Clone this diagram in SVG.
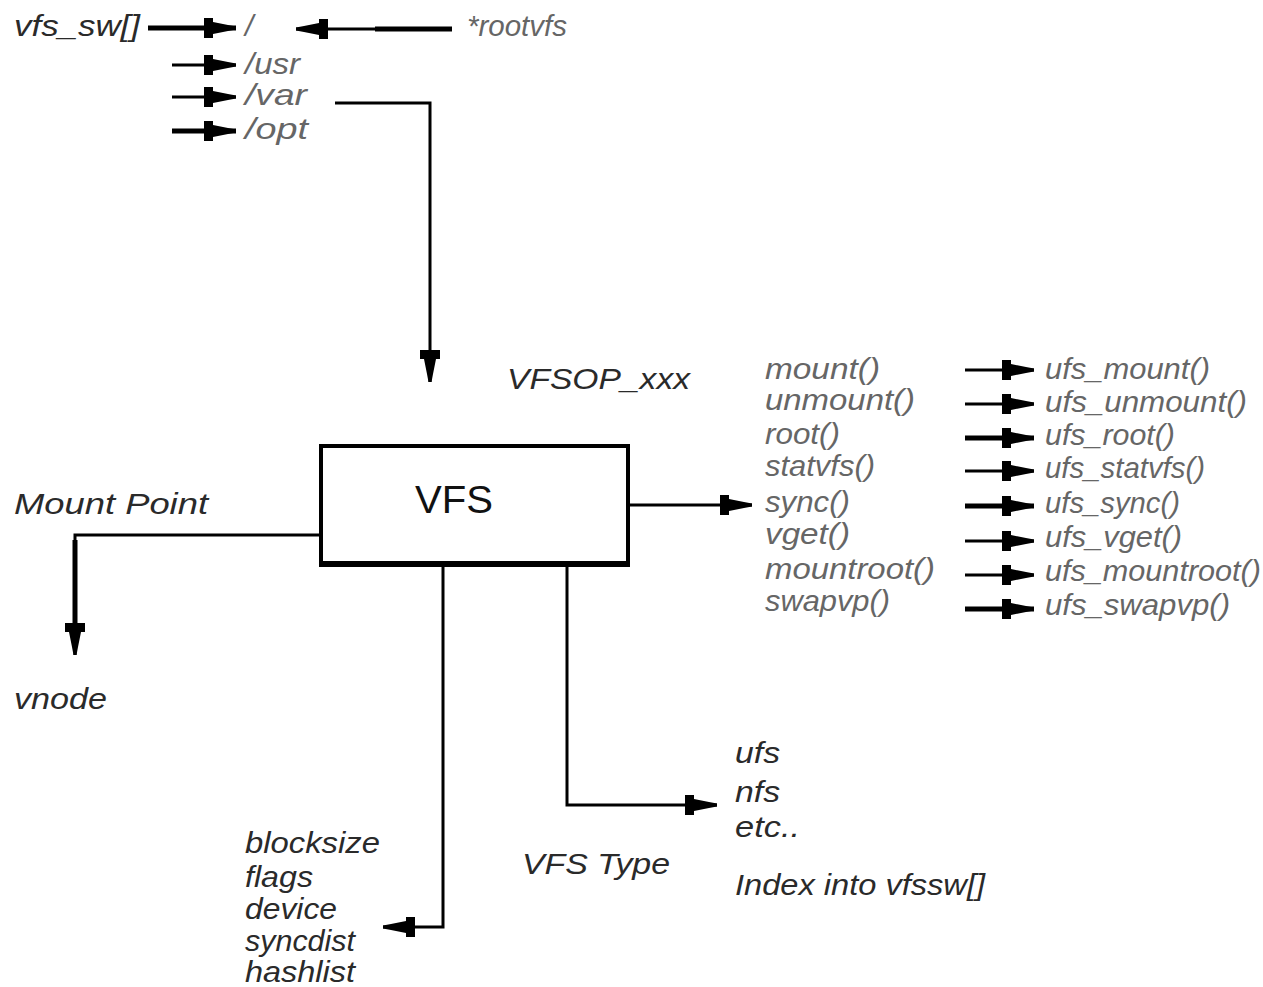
<svg xmlns="http://www.w3.org/2000/svg" width="1263" height="987" viewBox="0 0 1263 987">
<style>
.t{font-family:"Liberation Sans",Arial,sans-serif;font-style:italic;font-size:30px;fill:#2a2a2a}
.g{font-family:"Liberation Sans",Arial,sans-serif;font-style:italic;font-size:30px;fill:#666}
.b{font-family:"Liberation Sans",Arial,sans-serif;font-size:39px;fill:#111}
.c{fill:none;stroke:#000;stroke-width:3}
.k{stroke-width:5}
</style>
<defs>
<marker id="ah" markerUnits="userSpaceOnUse" viewBox="0 -11 32 22" markerWidth="32" markerHeight="22" refX="32" refY="0" orient="auto">
<path d="M0,-10 L9,-10 L9,-6 L24,-3 L32,-1.5 L32,1.5 L24,3 L9,6 L9,10 L0,10 Z" fill="#000"/>
</marker>
</defs>
<rect width="1263" height="987" fill="#fff"/>
<g id="connectors">
<line class="c k" x1="148" y1="28" x2="236" y2="28" marker-end="url(#ah)"/>
<line class="c" x1="172" y1="65" x2="236" y2="65" marker-end="url(#ah)"/>
<line class="c" x1="172" y1="97" x2="236" y2="97" marker-end="url(#ah)"/>
<line class="c k" x1="172" y1="131" x2="236" y2="131" marker-end="url(#ah)"/>
<line class="c k" x1="452" y1="29" x2="375" y2="29"/>
<line class="c" x1="376" y1="29" x2="296" y2="29" marker-end="url(#ah)"/>
<polyline class="c" points="335,103 430,103 430,382" marker-end="url(#ah)"/>
<polyline class="c" points="320,535 75,535 75,655" marker-end="url(#ah)"/>
<line class="c k" x1="75" y1="540" x2="75" y2="640"/>
<line class="c" x1="628" y1="505" x2="752" y2="505" marker-end="url(#ah)"/>
<polyline class="c" points="443,565 443,927 383,927" marker-end="url(#ah)"/>
<polyline class="c" points="567,565 567,805 717,805" marker-end="url(#ah)"/>
<line class="c" x1="965" y1="370" x2="1034" y2="370" marker-end="url(#ah)"/>
<line class="c" x1="965" y1="404" x2="1034" y2="404" marker-end="url(#ah)"/>
<line class="c k" x1="965" y1="438" x2="1034" y2="438" marker-end="url(#ah)"/>
<line class="c" x1="965" y1="471" x2="1034" y2="471" marker-end="url(#ah)"/>
<line class="c k" x1="965" y1="506" x2="1034" y2="506" marker-end="url(#ah)"/>
<line class="c" x1="965" y1="541" x2="1034" y2="541" marker-end="url(#ah)"/>
<line class="c" x1="965" y1="575" x2="1034" y2="575" marker-end="url(#ah)"/>
<line class="c k" x1="965" y1="609" x2="1034" y2="609" marker-end="url(#ah)"/>
</g>
<g id="vfs_sw">
<text class="t" x="14" y="36" textLength="126" lengthAdjust="spacingAndGlyphs">vfs_sw[]</text>
<text class="g" x="245" y="36">/</text>
<text class="g" x="245" y="74" textLength="55" lengthAdjust="spacingAndGlyphs">/usr</text>
<text class="g" x="245" y="105" textLength="62" lengthAdjust="spacingAndGlyphs">/var</text>
<text class="g" x="245" y="139" textLength="63" lengthAdjust="spacingAndGlyphs">/opt</text>
</g>
<g id="rootvfs"><text class="g" x="467" y="36" textLength="100" lengthAdjust="spacingAndGlyphs">*rootvfs</text></g>
<g id="vfs">
<rect x="321" y="446" width="307" height="119" fill="#fff" stroke="#000" stroke-width="4"/>
<line x1="319" y1="564" x2="630" y2="564" stroke="#000" stroke-width="6"/>
<text class="b" x="415" y="513" textLength="78" lengthAdjust="spacingAndGlyphs">VFS</text>
</g>
<g id="vfsop"><text class="t" x="507" y="389" textLength="183" lengthAdjust="spacingAndGlyphs">VFSOP_xxx</text></g>
<g id="mountpoint"><text class="t" x="14" y="514" textLength="194" lengthAdjust="spacingAndGlyphs">Mount Point</text></g>
<g id="vnode"><text class="t" x="14" y="709" textLength="93" lengthAdjust="spacingAndGlyphs">vnode</text></g>
<g id="ops">
<text class="g" x="765" y="379" textLength="115" lengthAdjust="spacingAndGlyphs">mount()</text>
<text class="g" x="765" y="410" textLength="150" lengthAdjust="spacingAndGlyphs">unmount()</text>
<text class="g" x="765" y="444" textLength="75" lengthAdjust="spacingAndGlyphs">root()</text>
<text class="g" x="765" y="476" textLength="110" lengthAdjust="spacingAndGlyphs">statvfs()</text>
<text class="g" x="765" y="512" textLength="85" lengthAdjust="spacingAndGlyphs">sync()</text>
<text class="g" x="765" y="544" textLength="85" lengthAdjust="spacingAndGlyphs">vget()</text>
<text class="g" x="765" y="579" textLength="170" lengthAdjust="spacingAndGlyphs">mountroot()</text>
<text class="g" x="765" y="611" textLength="125" lengthAdjust="spacingAndGlyphs">swapvp()</text>
</g>
<g id="ufsops">
<text class="g" x="1045" y="379" textLength="165" lengthAdjust="spacingAndGlyphs">ufs_mount()</text>
<text class="g" x="1045" y="412" textLength="202" lengthAdjust="spacingAndGlyphs">ufs_unmount()</text>
<text class="g" x="1045" y="445" textLength="130" lengthAdjust="spacingAndGlyphs">ufs_root()</text>
<text class="g" x="1045" y="478" textLength="160" lengthAdjust="spacingAndGlyphs">ufs_statvfs()</text>
<text class="g" x="1045" y="513" textLength="135" lengthAdjust="spacingAndGlyphs">ufs_sync()</text>
<text class="g" x="1045" y="547" textLength="137" lengthAdjust="spacingAndGlyphs">ufs_vget()</text>
<text class="g" x="1045" y="581" textLength="216" lengthAdjust="spacingAndGlyphs">ufs_mountroot()</text>
<text class="g" x="1045" y="615" textLength="185" lengthAdjust="spacingAndGlyphs">ufs_swapvp()</text>
</g>
<g id="fields">
<text class="t" x="245" y="853" textLength="135" lengthAdjust="spacingAndGlyphs">blocksize</text>
<text class="t" x="245" y="887" textLength="68" lengthAdjust="spacingAndGlyphs">flags</text>
<text class="t" x="245" y="919" textLength="92" lengthAdjust="spacingAndGlyphs">device</text>
<text class="t" x="245" y="951" textLength="110" lengthAdjust="spacingAndGlyphs">syncdist</text>
<text class="t" x="245" y="982" textLength="110" lengthAdjust="spacingAndGlyphs">hashlist</text>
</g>
<g id="vfstype"><text class="t" x="522" y="874" textLength="148" lengthAdjust="spacingAndGlyphs">VFS Type</text></g>
<g id="types">
<text class="t" x="735" y="763" textLength="45" lengthAdjust="spacingAndGlyphs">ufs</text>
<text class="t" x="735" y="802" textLength="45" lengthAdjust="spacingAndGlyphs">nfs</text>
<text class="t" x="735" y="837" textLength="65" lengthAdjust="spacingAndGlyphs">etc..</text>
<text class="t" x="735" y="895" textLength="250" lengthAdjust="spacingAndGlyphs">Index into vfssw[]</text>
</g>
</svg>
